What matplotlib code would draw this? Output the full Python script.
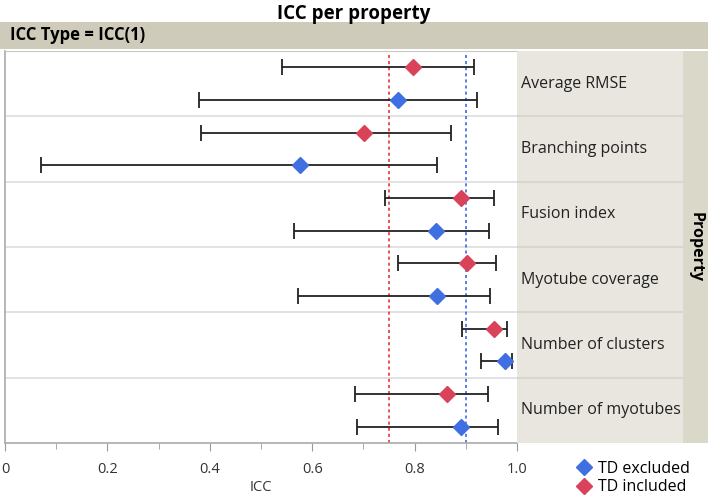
import matplotlib.pyplot as plt
from matplotlib.patches import Rectangle
from matplotlib.lines import Line2D

plt.rcParams['font.family'] = ['Open Sans', 'DejaVu Sans']

properties = ["Average RMSE", "Branching points", "Fusion index",
              "Myotube coverage", "Number of clusters", "Number of myotubes"]

# ICC estimates with lower/upper CI
incl_icc = [0.796, 0.702, 0.890, 0.902, 0.955, 0.863]
incl_lo = [0.541, 0.382, 0.742, 0.767, 0.892, 0.683]
incl_hi = [0.916, 0.871, 0.955, 0.959, 0.980, 0.943]

excl_icc = [0.767, 0.576, 0.841, 0.844, 0.976, 0.890]
excl_lo = [0.378, 0.071, 0.565, 0.572, 0.929, 0.688]
excl_hi = [0.922, 0.843, 0.945, 0.947, 0.990, 0.963]

ref_lines = [0.75, 0.90]

blue = "#3f6fe0"
red = "#d9435a"
W, H = 708, 496

fig = plt.figure(figsize=(7.08, 4.96), dpi=100)

def fx(px):
    return px / W

def fy(py):
    return 1 - py / H

# title and header band
fig.text(0.5, fy(14), "ICC per property", ha="center", va="center",
         fontsize=13.5, fontweight="bold")
fig.patches.append(Rectangle((0, fy(49)), 1, (49 - 22) / H, transform=fig.transFigure,
                             facecolor="#cfcbba", edgecolor="none"))
fig.text(fx(10), fy(35), "ICC Type = ICC(1)", ha="left", va="center",
         fontsize=12, fontweight="bold")

top, bottom = 51, 443
n = len(properties)
ax = fig.add_axes([fx(5), fy(bottom), fx(517 - 5), (bottom - top) / H])
ax.set_xlim(0, 1.0)
ax.set_ylim(n, 0)

for i in range(n):
    yr = i + 0.25
    yb = i + 0.75
    ax.errorbar(incl_icc[i], yr, xerr=[[incl_icc[i] - incl_lo[i]], [incl_hi[i] - incl_icc[i]]],
                fmt="none", ecolor="#222222", elinewidth=1.3, capsize=6, capthick=1.3, zorder=2)
    ax.errorbar(excl_icc[i], yb, xerr=[[excl_icc[i] - excl_lo[i]], [excl_hi[i] - excl_icc[i]]],
                fmt="none", ecolor="#222222", elinewidth=1.3, capsize=6, capthick=1.3, zorder=2)
    ax.plot(incl_icc[i], yr, marker="D", color=red, markersize=8, zorder=4)
    ax.plot(excl_icc[i], yb, marker="D", color=blue, markersize=8, zorder=4)
    if i > 0:
        ax.axhline(i, color="#dddddd", lw=1.2, zorder=0)

ax.axvline(ref_lines[0], color="#e8202a", ls=(0, (2, 2)), lw=1.1, zorder=1)
ax.axvline(ref_lines[1], color="#2a5ce0", ls=(0, (2, 2)), lw=1.1, zorder=1)

ax.set_xticks([0, 0.2, 0.4, 0.6, 0.8, 1.0])
ax.set_xticklabels(["0", "0.2", "0.4", "0.6", "0.8", "1.0"], fontsize=10.5, color="#333333")
ax.set_xticks([0.1, 0.3, 0.5, 0.7, 0.9], minor=True)
ax.tick_params(axis="x", which="major", length=6, color="#999999", pad=8)
ax.tick_params(axis="x", which="minor", length=4, color="#999999")
ax.set_yticks([])
ax.spines["right"].set_visible(False)
ax.spines["top"].set_color("#c8c8c8")
ax.spines["left"].set_color("#aaaaaa")
ax.spines["bottom"].set_color("#aaaaaa")
ax.spines["left"].set_linewidth(1.2)
ax.spines["bottom"].set_linewidth(1.2)
ax.set_xlabel("ICC", fontsize=10.5, color="#333333", labelpad=2)

# label panels
lab = fig.add_axes([fx(517), fy(bottom), fx(683 - 517), (bottom - top) / H])
lab.set_xlim(0, 1)
lab.set_ylim(n, 0)
lab.axis("off")
lab.add_patch(Rectangle((0, 0), 1, n, facecolor="#e8e6de", edgecolor="none"))
for i, name in enumerate(properties):
    if i > 0:
        lab.axhline(i, color="#d9d7cd", lw=1.5)
    lab.text(0.025, i + 0.5, name, ha="left", va="center", fontsize=11.5, color="#222222")

# strip
strip = fig.add_axes([fx(683), fy(bottom), fx(708 - 683), (bottom - top) / H])
strip.set_xlim(0, 1)
strip.set_ylim(0, 1)
strip.axis("off")
strip.add_patch(Rectangle((0, 0), 1, 1, facecolor="#dad8c8", edgecolor="none"))
strip.text(0.5, 0.5, "Property", rotation=-90, ha="center", va="center",
           fontsize=11.5, fontweight="bold")

# legend
handles = [Line2D([], [], marker="D", color=blue, ls="none", markersize=8),
           Line2D([], [], marker="D", color=red, ls="none", markersize=8)]
fig.legend(handles, ["TD excluded", "TD included"], loc="center left",
           bbox_to_anchor=(fx(560), fy(478)), frameon=False, fontsize=11.5,
           handletextpad=0.3, labelspacing=0.15, handlelength=1.2)

fig.savefig("out.png", dpi=100)
